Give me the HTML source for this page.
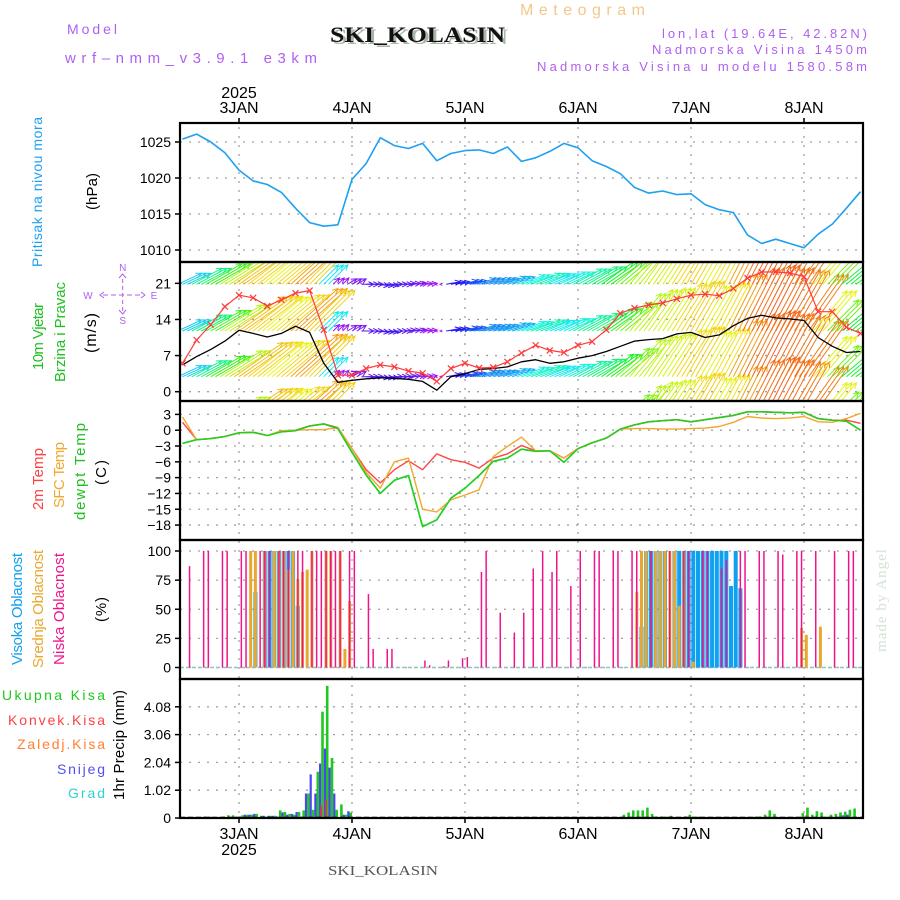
<!DOCTYPE html>
<html><head><meta charset="utf-8"><title>Meteogram SKI_KOLASIN</title>
<style>
html,body{margin:0;padding:0;background:#fff;}
svg{display:block;}
text{font-family:"Liberation Sans",sans-serif;}
</style></head>
<body>
<svg id="chart" xmlns="http://www.w3.org/2000/svg" width="900" height="900" viewBox="0 0 900 900">
<defs>
<clipPath id="windClip"><rect x="180" y="262" width="683" height="139"/></clipPath>
</defs>
<rect x="0" y="0" width="900" height="900" fill="#fff"/>
<!-- header texts -->
<text x="520" y="15" font-size="16" fill="#f2c88a" textLength="125" lengthAdjust="spacing">Meteogram</text>
<text x="67" y="34" font-size="14" fill="#b060f0" textLength="50" lengthAdjust="spacing">Model</text>
<text x="65" y="63" font-size="15" fill="#b060f0" textLength="252" lengthAdjust="spacing">wrf–nmm_v3.9.1 e3km</text>
<text x="333" y="44" font-size="22" font-weight="bold" fill="#a8b8a8" style="font-family:'Liberation Serif',serif" textLength="175" lengthAdjust="spacingAndGlyphs">SKI_KOLASIN</text>
<text x="330" y="42" font-size="22" font-weight="bold" fill="#111" style="font-family:'Liberation Serif',serif" textLength="175" lengthAdjust="spacingAndGlyphs">SKI_KOLASIN</text>
<text x="662" y="38" font-size="13" fill="#b060f0" textLength="205" lengthAdjust="spacing">lon,lat (19.64E, 42.82N)</text>
<text x="652" y="54" font-size="13" fill="#b060f0" textLength="215" lengthAdjust="spacing">Nadmorska Visina 1450m</text>
<text x="537" y="71" font-size="13" fill="#b060f0" textLength="330" lengthAdjust="spacing">Nadmorska Visina u modelu 1580.58m</text>
<text transform="translate(886,600) rotate(-90)" font-size="15" text-anchor="middle" fill="#d4e2d4" style="font-family:'Liberation Serif',serif;letter-spacing:1px">made by Angel</text>
<text x="328" y="875" font-size="14" fill="#555" style="font-family:'Liberation Serif',serif" textLength="110" lengthAdjust="spacingAndGlyphs">SKI_KOLASIN</text>
<!-- left axis titles -->
<text transform="translate(42,267) rotate(-90)" font-size="14" fill="#1ea0f0" textLength="150" lengthAdjust="spacing">Pritisak na nivou mora</text>
<text transform="translate(97,210) rotate(-90)" font-size="15" fill="#000" textLength="37" lengthAdjust="spacing">(hPa)</text>
<text transform="translate(43,370) rotate(-90)" font-size="15" fill="#20c020" textLength="67" lengthAdjust="spacing">10m Vjetar</text>
<text transform="translate(65,382) rotate(-90)" font-size="15" fill="#20c020" textLength="100" lengthAdjust="spacing">Brzina i Pravac</text>
<text transform="translate(96,353) rotate(-90)" font-size="16" fill="#000" textLength="40" lengthAdjust="spacing">(m/s)</text>
<g fill="#b060f0" stroke="#b060f0" font-size="10">
<text x="122.7" y="271" text-anchor="middle" stroke="none">N</text>
<text x="122.7" y="324" text-anchor="middle" stroke="none">S</text>
<text x="88" y="299" text-anchor="middle" stroke="none">W</text>
<text x="154" y="299" text-anchor="middle" stroke="none">E</text>
<line x1="122.7" y1="279" x2="122.7" y2="311" stroke-dasharray="4,3"/>
<line x1="103" y1="295" x2="142" y2="295" stroke-dasharray="5,3"/>
<polyline points="119,278 122.7,274 126,278" fill="none"/>
<polyline points="119,310 122.7,314 126,310" fill="none"/>
<polyline points="104,292 100,295 104,298" fill="none"/>
<polyline points="141,292 145,295 141,298" fill="none"/>
</g>
<text transform="translate(43,510) rotate(-90)" font-size="15" fill="#ff4040" textLength="62" lengthAdjust="spacing">2m Temp</text>
<text transform="translate(64,508) rotate(-90)" font-size="15" fill="#f0a830" textLength="66" lengthAdjust="spacing">SFC Temp</text>
<text transform="translate(85,520) rotate(-90)" font-size="15" fill="#20c020" textLength="97" lengthAdjust="spacing">dewpt Temp</text>
<text transform="translate(106,485) rotate(-90)" font-size="15" fill="#000" textLength="25" lengthAdjust="spacing">(C)</text>
<text transform="translate(22,665) rotate(-90)" font-size="15" fill="#10a0f0" textLength="112" lengthAdjust="spacing">Visoka Oblacnost</text>
<text transform="translate(43,668) rotate(-90)" font-size="15" fill="#e8a830" textLength="118" lengthAdjust="spacing">Srednja Oblacnost</text>
<text transform="translate(64,665) rotate(-90)" font-size="15" fill="#f0148c" textLength="112" lengthAdjust="spacing">Niska Oblacnost</text>
<text transform="translate(106,622) rotate(-90)" font-size="15" fill="#000" textLength="25" lengthAdjust="spacing">(%)</text>
<text x="2" y="700" font-size="14" fill="#20c820" textLength="103" lengthAdjust="spacing">Ukupna  Kisa</text>
<text x="8" y="725" font-size="14" fill="#ff4040" textLength="97" lengthAdjust="spacing">Konvek.Kisa</text>
<text x="17" y="749" font-size="14" fill="#ff8030" textLength="88" lengthAdjust="spacing">Zaledj.Kisa</text>
<text x="57" y="774" font-size="14" fill="#5050f0" textLength="48" lengthAdjust="spacing">Snijeg</text>
<text x="68" y="798" font-size="14" fill="#30d0d0" textLength="37" lengthAdjust="spacing">Grad</text>
<text transform="translate(124,800) rotate(-90)" font-size="15" fill="#000" textLength="110" lengthAdjust="spacing">1hr Precip (mm)</text>
<g id="plot"></g>
</svg>
<script>
// ---------- DATA ----------
// 3-hourly series, hours relative to 3JAN 00Z
const hours3 = [-12,-9,-6,-3,0,3,6,9,12,15,18,21,24,27,30,33,36,39,42,45,48,51,54,57,60,63,66,69,72,75,78,81,84,87,90,93,96,99,102,105,108,111,114,117,120,123,126,129,132];
const pressure = [1025.4,1026.1,1025.0,1023.5,1021.1,1019.6,1019.1,1018.0,1015.8,1013.8,1013.3,1013.5,1019.8,1022.0,1025.6,1024.5,1024.1,1024.8,1022.4,1023.4,1023.8,1023.9,1023.4,1024.3,1022.3,1022.8,1023.7,1024.8,1024.2,1022.4,1021.6,1020.6,1018.7,1017.9,1018.2,1017.7,1017.8,1016.3,1015.6,1015.2,1012.1,1010.9,1011.5,1010.9,1010.3,1012.2,1013.6,1015.8,1018.1];
const windSpeed = [5.2,6.8,8.2,9.8,11.9,11.3,10.6,11.3,12.7,11.5,5.5,1.8,2.2,2.5,2.7,2.6,2.4,2.0,0.3,2.9,3.5,4.3,4.5,4.8,5.8,6.2,5.5,5.8,6.5,7.0,7.8,8.8,9.8,10.1,10.3,11.2,11.5,10.5,11.0,12.8,14.2,14.8,14.3,14.1,13.8,10.5,8.8,7.6,7.8];
const windGust = [5.5,10,13,16.5,18.7,18.2,16.6,17.8,19.1,19.6,12,3.2,3.2,4.5,5.2,4.8,4.0,3.6,2.0,4.5,5.5,4.6,4.7,5.8,7.5,9.0,8.0,7.6,9.0,9.7,12.0,15.2,16.2,16.8,17.2,18.0,18.7,18.9,18.6,20.0,22.0,23.2,23.2,23.0,22.3,15.5,15.5,12.5,11.3];
const windDir = [65,62,60,58,55,52,50,50,48,45,45,45,60,90,95,90,85,85,270,80,78,75,75,72,72,70,68,65,62,60,55,50,40,35,33,32,30,30,28,27,27,27,28,30,35,40,45,50,55];
const temp2m = [1.5,-1.8,-1.6,-1.2,-0.5,-0.4,-1.0,-0.2,0.0,0.8,1.2,0.5,-3.5,-7.5,-10.0,-7.5,-5.8,-7.5,-4.5,-5.6,-6.1,-7.2,-5.3,-4.5,-2.9,-3.9,-3.9,-5.3,-3.5,-2.4,-1.5,0.2,1.0,1.6,1.8,2.0,1.6,2.0,2.4,2.8,3.5,3.5,3.4,3.3,3.4,2.2,1.9,1.9,1.3];
const tempSfc = [2.5,-1.8,-1.6,-1.2,-0.5,-0.4,-1.0,-0.1,0.0,0.1,0.1,0.5,-3.5,-8.0,-11.0,-6.0,-5.3,-15.0,-15.5,-13.2,-12.3,-11.3,-5.0,-3.1,-1.3,-3.9,-3.9,-5.3,-3.5,-2.4,-1.5,0.2,0.3,0.3,0.2,0.2,0.3,0.4,0.7,1.5,2.6,2.3,2.2,2.3,2.6,1.6,1.5,2.2,3.2];
const tempDew = [-2.5,-1.8,-1.6,-1.2,-0.5,-0.4,-1.0,-0.3,-0.1,0.8,1.2,0.3,-4.2,-8.5,-12.0,-9.5,-8.6,-18.3,-17.0,-12.9,-11.0,-8.6,-5.9,-5.3,-3.6,-4.0,-3.9,-6.1,-3.5,-2.4,-1.5,0.2,1.0,1.6,1.8,2.0,1.6,2.0,2.4,2.8,3.5,3.5,3.4,3.3,3.4,2.2,1.9,1.7,0.0];
// cloud cover (hourly, sparse)
const highH = [3,5,6,7,8,9,10,11,12,85,86,87,88,89,90,92,93,94,95,96,97,98,99,100,101,102,103,104,105,106];
const highV = [65,100,100,100,100,100,100,100,53,35,100,100,100,100,100,100,100,100,100,100,100,100,100,100,100,100,100,70,100,68];
const midH = [2,3,5,7,8,9,10,11,12,13,14,15,18,19,21,22,23,84,85,86,88,89,90,91,92,93,94,96,119,120,123];
const midV = [100,100,100,100,100,100,84,100,76,82,84,100,100,100,100,16,57,65,100,100,100,100,100,100,100,53,100,5,34,28,35];
const lowH = [-11,-8,-7,-4,-3,0,1,4,5,6,8,9,10,12,13,15,16,17,18,19,20,21,23,24,27,28,31,32,39,40,43,44,47,48,51,52,55,58,60,62,64,66,67,70,72,75,76,79,80,83,84,87,91,94,95,98,99,102,103,106,107,110,111,114,115,118,119,122,126,129,130];
const lowV = [87,100,100,100,100,100,100,100,100,100,100,100,100,100,100,100,100,100,100,100,100,100,100,100,63,16,16,16,6,2,1,6,8,9,82,100,47,30,47,85,100,82,100,70,100,100,100,100,100,100,100,100,100,100,100,100,100,85,92,100,100,100,100,100,97,100,100,100,100,100,100];
// precipitation (hourly, sparse)
const totalH = [-8,-7,-4,-3,-2,-1,0,1,2,3,4,5,6,7,8,9,10,11,12,13,14,15,16,17,18,19,20,21,22,23,81,82,83,84,85,86,87,88,89,90,91,94,95,97,109,110,111,112,113,119,120,121,122,123,124,125,126,127,128,129,130];
const totalV = [0.05,0.05,0.05,0.1,0.1,0.03,0.1,0.12,0.12,0.15,0.08,0.05,0.08,0.08,0.28,0.22,0.15,0.12,0.22,0.28,0.9,0.3,1.7,3.9,4.85,2.2,0.3,0.5,0.12,0.2,0.12,0.2,0.28,0.28,0.28,0.38,0.15,0.05,0.05,0.05,0.08,0.06,0.12,0.05,0.05,0.05,0.12,0.28,0.15,0.18,0.38,0.12,0.25,0.2,0.05,0.12,0.15,0.2,0.23,0.3,0.35];
const snowH = [-1,0,1,2,3,5,6,7,9,10,11,12,14,15,16,17,18,19,20,22,23,128,129];
const snowV = [0.05,0.05,0.12,0.12,0.15,0.08,0.08,0.08,0.2,0.12,0.15,0.22,0.9,1.6,0.9,2.0,2.55,1.85,0.9,0.12,0.25,0.1,0.12];
const convH = [13,17,18,120];
const convV = [0.05,0.45,0.7,0.1];
const dayHours = [0,24,48,72,96,120];
const dayLabels = ['3JAN','4JAN','5JAN','6JAN','7JAN','8JAN'];
const pTicks = [1010,1015,1020,1025];
const wTicks = [0,7,14,21];
const tTicks = [3,0,-3,-6,-9,-12,-15,-18];
const cTicks = [0,25,50,75,100];
const rTicks = [0,1.02,2.04,3.06,4.08];

// ---------- SCALES ----------
const L = 180, R = 863;
const X = h => 239 + h * 113 / 24;
const yP = p => 142 + (1025 - p) * 7.2;
const yW = v => 391.7 - v * 5.16;
const yT = t => 430.2 - t * 5.27;
const yC = c => 667.5 - c * 1.165;
const yR = r => 818 - r * 27.25;
const panels = [[123,262],[262,401],[401,540],[540,679],[679,818]];

const NS = 'http://www.w3.org/2000/svg';
const plot = document.getElementById('plot');
function mk(tag, attrs, parent) {
  const e = document.createElementNS(NS, tag);
  for (const k in attrs) e.setAttribute(k, attrs[k]);
  (parent || plot).appendChild(e);
  return e;
}
function grp(name) {
  const g = mk('g', {});
  
  
  return g;
}

// ---------- GRID ----------
const grid = grp('grid-lines');
dayHours.forEach(h => {
  const l = mk('line', {x1: X(h), x2: X(h), y1: 118, y2: 823, stroke: '#a0a0a0', 'stroke-width': 1.3, 'stroke-dasharray': '2,7'}, grid);
  
  
});
function hgrid(ticks, ys, labelFmt, name) {
  const g = grp(name);
  ticks.forEach(t => {
    const y = ys(t);
    const l = mk('line', {x1: L, x2: R, y1: y, y2: y, stroke: '#a0a0a0', 'stroke-width': 1.3, 'stroke-dasharray': '2,7'}, g);
    
    
    const tk = mk('line', {x1: L - 5, x2: L, y1: y, y2: y, stroke: '#000', 'stroke-width': 1.5}, g);
    
    
    const tx = mk('text', {x: L - 9, y: y + 5, 'font-size': 14, 'text-anchor': 'end', fill: '#000'}, g);
    
    
    tx.textContent = labelFmt(t);
  });
}
hgrid(pTicks, yP, t => String(t), 'pressure-y-axis');
hgrid(wTicks, yW, t => String(t), 'wind-y-axis');
hgrid(tTicks, yT, t => (t < 0 ? '\u2212' + (-t) : String(t)), 'temp-y-axis');
hgrid(cTicks, yC, t => String(t), 'cloud-y-axis');
hgrid(rTicks, yR, t => (t === 0 ? '0' : t.toFixed(2)), 'precip-y-axis');

// day labels top & bottom
const xa = grp('time-axis');
dayHours.forEach((h, i) => {
  const x = X(h);
  const t1 = mk('text', {x: x, y: 113, 'font-size': 16, 'text-anchor': 'middle', fill: '#000'}, xa);
  
  
  t1.textContent = dayLabels[i];
  const t2 = mk('text', {x: x, y: 839, 'font-size': 16, 'text-anchor': 'middle', fill: '#000'}, xa);
  
  
  t2.textContent = dayLabels[i];
  mk('line', {x1: x, x2: x, y1: 118, y2: 123, stroke: '#000', 'stroke-width': 1.5}, xa);
  mk('line', {x1: x, x2: x, y1: 818, y2: 823, stroke: '#000', 'stroke-width': 1.5}, xa);
});
const yr1 = mk('text', {x: X(0), y: 98, 'font-size': 16, 'text-anchor': 'middle', fill: '#000'}, xa);


yr1.textContent = '2025';
const yr2 = mk('text', {x: X(0), y: 855, 'font-size': 16, 'text-anchor': 'middle', fill: '#000'}, xa);


yr2.textContent = '2025';

function line(vals, ys, color, name, parent, w) {
  const pts = hours3.map((h, i) => X(h).toFixed(1) + ',' + ys(vals[i]).toFixed(1)).join(' ');
  const p = mk('polyline', {points: pts, fill: 'none', stroke: color, 'stroke-width': w || 1.5, 'stroke-linejoin': 'round'}, parent);
  
  
  return p;
}

// ---------- PRESSURE ----------
line(pressure, yP, '#1ea0f0', 'pressure-line', null, 1.6);

// ---------- WIND ----------
function speedColor(s) {
  const stops = [[0,285],[2,275],[3.5,225],[5,195],[7,145],[9,90],[11,55],[13,35],[15,18],[30,350]];
  let hue = stops[stops.length - 1][1];
  for (let i = 0; i < stops.length - 1; i++) {
    if (s >= stops[i][0] && s <= stops[i + 1][0]) {
      const f = (s - stops[i][0]) / (stops[i + 1][0] - stops[i][0]);
      hue = stops[i][1] + f * (stops[i + 1][1] - stops[i][1]);
      break;
    }
  }
  return 'hsl(' + ((hue + 360) % 360).toFixed(0) + ',90%,52%)';
}
const windG = grp('wind-arrows');
windG.setAttribute('clip-path', 'url(#windClip)');
const rows = [238, 284.3, 331, 376.7, 423];
hours3.forEach((h, i) => {
  const s = windSpeed[i], d = windDir[i] * Math.PI / 180;
  const len = 5 * s;
  const dx = Math.sin(d) * len, dy = -Math.cos(d) * len;
  const col = speedColor(s);
  for (let k = -1; k <= 1; k++) {
    const x0 = X(h + k);
    rows.forEach(y0 => {
      const x1 = x0 + dx, y1 = y0 + dy;
      const a = Math.atan2(dy, dx);
      const hl = Math.min(6, len * 0.4 + 2);
      const ax = x1 - hl * Math.cos(a - 0.45), ay = y1 - hl * Math.sin(a - 0.45);
      const bx = x1 - hl * Math.cos(a + 0.45), by = y1 - hl * Math.sin(a + 0.45);
      const p = mk('path', {d: `M${x0.toFixed(1)},${y0.toFixed(1)}L${x1.toFixed(1)},${y1.toFixed(1)}M${ax.toFixed(1)},${ay.toFixed(1)}L${x1.toFixed(1)},${y1.toFixed(1)}L${bx.toFixed(1)},${by.toFixed(1)}`, stroke: col, 'stroke-width': 1, fill: 'none'}, windG);
      
      
    });
  }
});
line(windSpeed, yW, '#000', 'wind-speed-line', null, 1.3);
const gustG = grp('wind-gust-series');
line(windGust, yW, '#ff3a3a', 'wind-gust-line', gustG, 1.2);
hours3.forEach((h, i) => {
  const x = X(h), y = yW(windGust[i]);
  const m = mk('path', {d: `M${x-3},${y-3}L${x+3},${y+3}M${x-3},${y+3}L${x+3},${y-3}`, stroke: '#ff3a3a', 'stroke-width': 1.2}, gustG);
  
  
});

// ---------- TEMPERATURE ----------
line(tempDew, yT, '#20d020', 'dewpoint-line', null, 1.6);
line(temp2m, yT, '#ff4545', 'temp-2m-line', null, 1.4);
line(tempSfc, yT, '#f0a830', 'temp-sfc-line', null, 1.4);
line(tempDew, yT, '#20d020', 'dewpoint-line-top', null, 1.4);

// ---------- CLOUDS ----------
const cloudG = grp('cloud-bars');
mk('line', {x1: L, x2: R, y1: yC(0), y2: yC(0), stroke: '#8cc8c0', 'stroke-width': 1.5, 'stroke-dasharray': '4,2'}, cloudG);
function bars(H, V, ys, color, w, off, name, parent) {
  H.forEach((h, i) => {
    const x = X(h) + 2.3 + off;
    const y = ys(V[i]);
    const r = mk('rect', {x: (x - w / 2).toFixed(1), y: y.toFixed(1), width: w, height: Math.max(0, ys(0) - y).toFixed(1), fill: color}, parent);
    
    
  });
}
bars(highH, highV, yC, '#10a0f0', 4, 0, 'high-cloud-bar', cloudG);
bars(midH, midV, yC, '#e8a830', 3, 0, 'mid-cloud-bar', cloudG);
bars(lowH, lowV, yC, '#f0148c', 1.5, 0, 'low-cloud-bar', cloudG);

// ---------- PRECIP ----------
const precG = grp('precip-bars');
bars(totalH, totalV, yR, '#20c820', 2.6, 1.2, 'total-precip-bar', precG);
bars(snowH, snowV, yR, '#4848f0', 2.2, -1.2, 'snow-bar', precG);
bars(convH, convV, yR, '#ff3030', 1.6, 0, 'convective-precip-bar', precG);
mk('line', {x1: L, x2: R, y1: 817.5, y2: 817.5, stroke: '#000', 'stroke-width': 1.5, 'stroke-dasharray': '5,3'}, precG);

// ---------- FRAMES ----------
const fr = grp('panel-frames');
panels.forEach(([t, b]) => {
  const r = mk('rect', {x: L, y: t, width: R - L, height: b - t, fill: 'none', stroke: '#000', 'stroke-width': 2.2}, fr);
  
  
});
</script>
</body></html>
